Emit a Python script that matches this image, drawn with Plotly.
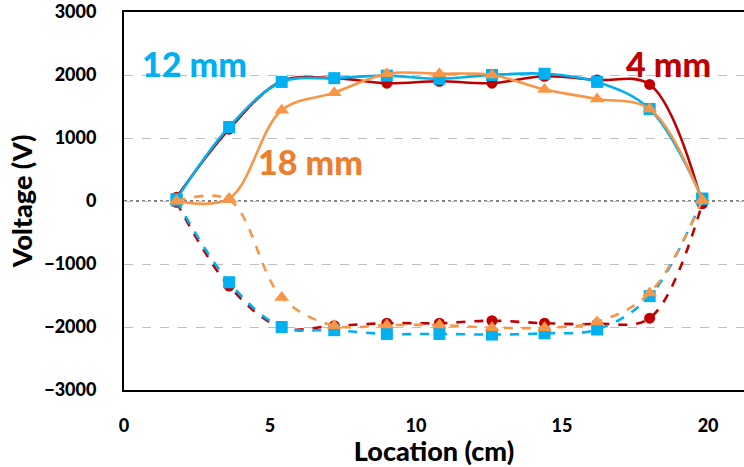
import plotly.graph_objects as go

# Probe positions along the electrode (cm)
location = [1.8, 3.6, 5.4, 7.2, 9.0, 10.8, 12.6, 14.4, 16.2, 18.0, 19.8]

# Positive half (solid) and negative half (dashed) voltage profiles, V
v4_pos = [60, 1140, 1900, 1950, 1870, 1900, 1870, 1980, 1920, 1850, -40]
v4_neg = [-20, -1350, -2010, -1980, -1940, -1940, -1900, -1940, -1950, -1860, -40]
v12_pos = [30, 1175, 1890, 1950, 1990, 1940, 2000, 2020, 1890, 1460, 40]
v12_neg = [10, -1290, -2000, -2050, -2110, -2110, -2120, -2100, -2040, -1510, 30]
v18_pos = [0, 40, 1440, 1720, 2020, 2020, 2000, 1770, 1620, 1460, 10]
v18_neg = [0, 20, -1530, -1980, -1970, -1970, -2010, -2010, -1920, -1460, 10]

RED = "#C00000"
BLUE = "#00B0F0"
ORANGE = "#F79646"
ORANGE_TXT = "#ED7D31"

FONT = "Lato"
HEAVY = 900

series = [
    ("4 mm", v4_pos, v4_neg, RED, "circle", 11),
    ("12 mm", v12_pos, v12_neg, BLUE, "square", 12),
    ("18 mm", v18_pos, v18_neg, ORANGE, "triangle-up", 13),
]

fig = go.Figure()
for name, pos, neg, color, sym, size in series:
    for vals, dash in ((pos, "solid"), (neg, "dash")):
        fig.add_trace(go.Scatter(
            x=location, y=vals, mode="lines+markers", name=name,
            line=dict(color=color, width=2.6, shape="spline", smoothing=1, dash=dash),
            marker=dict(symbol=sym, size=size, color=color),
            showlegend=False,
        ))

# Dotted zero reference line
fig.add_shape(type="line", xref="paper", x0=0, x1=1, yref="y", y0=0, y1=0,
              line=dict(color="black", width=1, dash="dot"), layer="below")

labels = [
    ("12 mm", 2.4, 2190, BLUE),
    ("18 mm", 6.4, 635, ORANGE_TXT),
    ("4 mm", 18.63, 2175, RED),
]
for text, ax, ay, col in labels:
    fig.add_annotation(x=ax, y=ay, text=text, showarrow=False,
                       font=dict(family=FONT, size=34, color=col, weight=HEAVY),
                       xanchor="center", yanchor="middle")

fig.update_layout(
    width=744, height=467,
    margin=dict(l=124, r=0, t=12, b=77),
    paper_bgcolor="white", plot_bgcolor="white",
    font=dict(family=FONT, color="black"),
)
fig.update_xaxes(
    range=[0, 21.23], tickvals=[0, 5, 10, 15, 20],
    showgrid=False, zeroline=False,
    showline=True, linecolor="black", linewidth=2, mirror=True,
    ticks="", ticklabelstandoff=18,
    tickfont=dict(family=FONT, size=18, weight=HEAVY),
    title=dict(text="Location (cm)", standoff=0,
               font=dict(family=FONT, size=27, weight=HEAVY)),
)
fig.update_yaxes(
    range=[-3000, 3000], tickvals=[-3000, -2000, -1000, 0, 1000, 2000, 3000],
    showgrid=True, gridcolor="#BFBFBF", gridwidth=1, griddash="dash",
    zeroline=False,
    showline=True, linecolor="black", linewidth=2, mirror=False,
    ticks="", ticklabelstandoff=22,
    tickfont=dict(family=FONT, size=18, weight=HEAVY),
    title=dict(text="Voltage (V)", standoff=4,
               font=dict(family=FONT, size=27, weight=HEAVY)),
)

fig.write_html("out.html")
